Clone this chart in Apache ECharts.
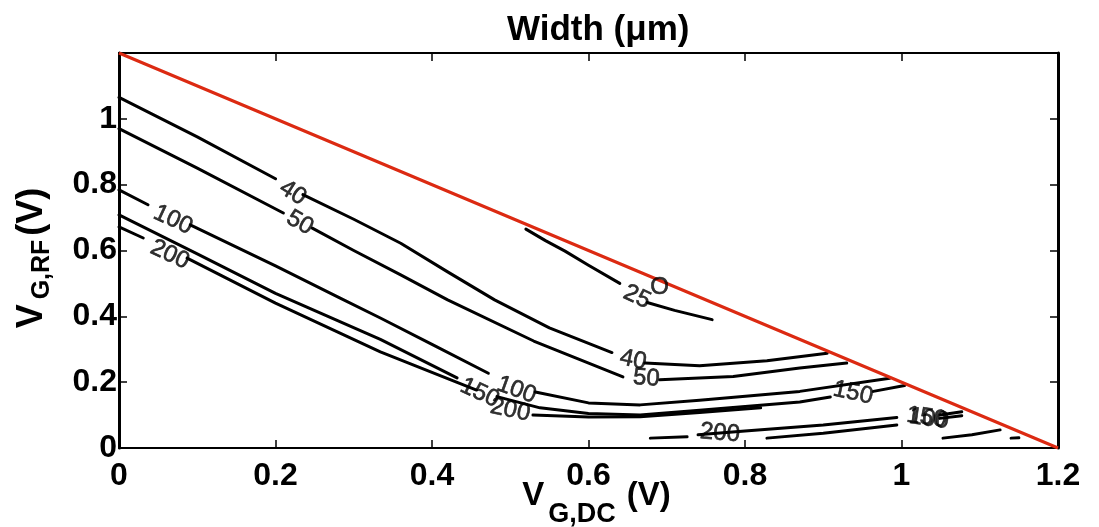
<!DOCTYPE html>
<html>
<head>
<meta charset="utf-8">
<script src="https://cdn.jsdelivr.net/npm/echarts@6/dist/echarts.min.js"></script>
<style>
  html, body { margin: 0; padding: 0; background: #fff; }
  #chart { width: 1099px; height: 527px; }
</style>
</head>
<body>
<div id="chart"></div>
<script>
// boundary line (red)
const boundary = [[0, 1.2], [0.3, 0.9], [0.6, 0.6], [0.9, 0.3], [1.2, 0]];

// contour segments (gaps are where the labels sit)
const c25 = [
  [[0.52, 0.665], [0.545, 0.63], [0.57, 0.598], [0.6, 0.555], [0.64, 0.5]],
  [[0.675, 0.442], [0.71, 0.418], [0.758, 0.39]]
];
const c40 = [
  [[0, 1.065], [0.1, 0.945], [0.2, 0.818]],
  [[0.235, 0.77], [0.3, 0.695], [0.36, 0.622], [0.42, 0.535], [0.48, 0.45], [0.55, 0.365], [0.63, 0.29]],
  [[0.672, 0.258], [0.742, 0.25], [0.828, 0.265], [0.905, 0.288]]
];
const c50 = [
  [[0, 0.97], [0.1, 0.85], [0.21, 0.714]],
  [[0.247, 0.668], [0.3, 0.6], [0.36, 0.526], [0.42, 0.45], [0.53, 0.325], [0.644, 0.216]],
  [[0.691, 0.207], [0.785, 0.217], [0.87, 0.243], [0.93, 0.258]]
];
const c100 = [
  [[0, 0.784], [0.037, 0.739]],
  [[0.091, 0.678], [0.2, 0.553], [0.282, 0.456], [0.334, 0.395], [0.4, 0.315], [0.472, 0.227]],
  [[0.532, 0.17], [0.6, 0.137], [0.666, 0.131], [0.742, 0.145], [0.87, 0.172], [0.985, 0.212]]
];
const c150 = [
  [[0, 0.708], [0.1, 0.59], [0.2, 0.47], [0.334, 0.33], [0.432, 0.213]],
  [[0.483, 0.156], [0.538, 0.122], [0.6, 0.105], [0.666, 0.1], [0.742, 0.115], [0.87, 0.14], [0.909, 0.155]],
  [[0.964, 0.172], [1.004, 0.19]]
];
const c200 = [
  [[0, 0.672], [0.031, 0.638]],
  [[0.087, 0.577], [0.2, 0.44], [0.334, 0.292], [0.457, 0.176]],
  [[0.529, 0.1], [0.6, 0.094], [0.666, 0.095], [0.742, 0.108], [0.82, 0.122]]
];
// small closed region near the bottom right
const cLow = [
  [[0.679, 0.03], [0.726, 0.034]],
  [[0.74, 0.04], [0.8, 0.052], [0.9, 0.07], [0.994, 0.093]],
  [[0.828, 0.03], [0.9, 0.045], [0.994, 0.07]],
  [[1.049, 0.1], [1.077, 0.11]],
  [[1.049, 0.09], [1.077, 0.098]],
  [[1.053, 0.03], [1.09, 0.04], [1.126, 0.055]],
  [[1.14, 0.03], [1.15, 0.031]]
];

// contour labels
const labelText = ['40', '50', '100', '200', '40', '50', '25', 'O', '100', '150', '200', '150', '200', '150', '100'];
const labelPos = [
  [0.222, 0.775], [0.231, 0.684], [0.069, 0.693], [0.065, 0.587],
  [0.657, 0.267], [0.674, 0.212], [0.662, 0.459], [0.691, 0.489],
  [0.508, 0.176], [0.461, 0.167], [0.5, 0.115], [0.938, 0.167],
  [0.768, 0.045], [1.032, 0.092], [1.035, 0.088]
];
const labelAngle = [-32, -30, -25, -25, -12, -5, -25, 0, -20, -25, -12, -12, -5, -8, -8];

const FONT = "'Liberation Sans', Arial, sans-serif";

const chart = echarts.init(document.getElementById('chart'));

const series = [];
[c25, c40, c50, c100, c150, c200, cLow].forEach(level => {
  level.forEach(seg => {
    series.push({
      type: 'line',
      data: seg,
      symbol: 'none',
      silent: true,
      z: 2,
      lineStyle: { color: '#000', width: 3, cap: 'round', join: 'round' }
    });
  });
});

series.push({
  type: 'line',
  data: boundary,
  symbol: 'none',
  silent: true,
  z: 3,
  lineStyle: { color: '#dc2a12', width: 3 }
});

series.push({
  type: 'scatter',
  symbolSize: 1,
  silent: true,
  z: 4,
  itemStyle: { color: 'rgba(255,255,255,0)' },
  data: labelPos.map((p, i) => ({
    value: p,
    label: { formatter: labelText[i], rotate: labelAngle[i] }
  })),
  label: {
    show: true,
    position: 'inside',
    color: '#000',
    textBorderColor: '#000',
    textBorderWidth: 0.6,
    fontSize: 24,
    fontFamily: FONT
  }
});

const axisLineX = { onZero: false, lineStyle: { color: '#000', width: 2 } };
const axisLineY = { onZero: false, lineStyle: { color: '#000', width: 3 } };
const tick = { inside: true, length: 8, lineStyle: { color: '#000', width: 1.5 } };
const tickLabel = { color: '#000', fontSize: 32, fontWeight: 'bold', fontFamily: FONT };

const option = {
  animation: false,
  backgroundColor: '#fff',
  title: {
    text: 'Width (μm)',
    left: 502,
    top: 8,
    textStyle: { color: '#000', fontSize: 35, fontWeight: 'bold', fontFamily: FONT }
  },
  grid: { left: 119, right: 41, top: 53, bottom: 79, outerBoundsMode: 'none' },
  xAxis: [
    {
      type: 'value', min: 0, max: 1.2, interval: 0.2, position: 'bottom',
      axisLine: axisLineX, axisTick: tick,
      axisLabel: Object.assign({ margin: 12 }, tickLabel),
      splitLine: { show: false },
      name: '{v|V}{s|G,DC}{v| (V)}',
      nameLocation: 'middle',
      nameGap: 31,
      nameMoveOverlap: false,
      nameTextStyle: {
        padding: [0, 0, 0, 16],
        rich: {
          v: { fontSize: 33, fontWeight: 'bold', fontFamily: FONT, color: '#000', lineHeight: 34, verticalAlign: 'top' },
          s: { fontSize: 27, fontWeight: 'bold', fontFamily: FONT, color: '#000', lineHeight: 27, verticalAlign: 'top', padding: [22, 2, 0, 4] }
        }
      }
    },
    {
      type: 'value', min: 0, max: 1.2, interval: 0.2, position: 'top',
      axisLine: axisLineX, axisTick: tick,
      axisLabel: { show: false }, splitLine: { show: false }
    }
  ],
  yAxis: [
    {
      type: 'value', min: 0, max: 1.2, interval: 0.2, position: 'left',
      axisLine: axisLineY, axisTick: tick,
      axisLabel: Object.assign({ margin: 2, showMaxLabel: false }, tickLabel),
      splitLine: { show: false },
      name: '{v|V}{s|G,RF}{v|(V)}',
      nameLocation: 'middle',
      nameGap: 69,
      nameMoveOverlap: false,
      nameTextStyle: {
        padding: [0, 15, 0, 0],
        rich: {
          v: { fontSize: 36, fontWeight: 'bold', fontFamily: FONT, color: '#000', lineHeight: 36, verticalAlign: 'top' },
          s: { fontSize: 25, fontWeight: 'bold', fontFamily: FONT, color: '#000', lineHeight: 26, verticalAlign: 'top', padding: [16, 4, 0, 5] }
        }
      }
    },
    {
      type: 'value', min: 0, max: 1.2, interval: 0.2, position: 'right',
      axisLine: axisLineY, axisTick: tick,
      axisLabel: { show: false }, splitLine: { show: false }
    }
  ],
  series: series
};

chart.setOption(option);
</script>
</body>
</html>
